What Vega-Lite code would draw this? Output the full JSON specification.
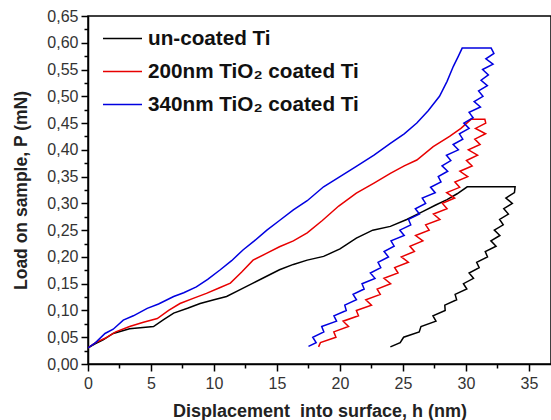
{
  "$schema": "https://vega.github.io/schema/vega-lite/v6.json",
  "width": 463,
  "height": 348,
  "autosize": {"type": "none"},
  "padding": {"left": 88, "top": 16, "right": 0, "bottom": 56},
  "background": "white",
  "config": {
    "view": {"stroke": "black", "strokeWidth": 1.5},
    "font": "Liberation Sans"
  },
  "data": {"values": [
    {"s":"un-coated Ti","i":0,"x":0,"y":0.03},
    {"s":"un-coated Ti","i":1,"x":0.6,"y":0.038},
    {"s":"un-coated Ti","i":2,"x":1.2,"y":0.045},
    {"s":"un-coated Ti","i":3,"x":2.0,"y":0.057},
    {"s":"un-coated Ti","i":4,"x":3.3,"y":0.066},
    {"s":"un-coated Ti","i":5,"x":5.2,"y":0.07},
    {"s":"un-coated Ti","i":6,"x":6.0,"y":0.083},
    {"s":"un-coated Ti","i":7,"x":6.8,"y":0.095},
    {"s":"un-coated Ti","i":8,"x":7.9,"y":0.104},
    {"s":"un-coated Ti","i":9,"x":8.9,"y":0.113},
    {"s":"un-coated Ti","i":10,"x":10.0,"y":0.12},
    {"s":"un-coated Ti","i":11,"x":11.0,"y":0.126},
    {"s":"un-coated Ti","i":12,"x":12.0,"y":0.138},
    {"s":"un-coated Ti","i":13,"x":13.1,"y":0.151},
    {"s":"un-coated Ti","i":14,"x":14.1,"y":0.163},
    {"s":"un-coated Ti","i":15,"x":15.2,"y":0.176},
    {"s":"un-coated Ti","i":16,"x":16.3,"y":0.186},
    {"s":"un-coated Ti","i":17,"x":17.4,"y":0.194},
    {"s":"un-coated Ti","i":18,"x":18.7,"y":0.201},
    {"s":"un-coated Ti","i":19,"x":20.0,"y":0.215},
    {"s":"un-coated Ti","i":20,"x":21.3,"y":0.235},
    {"s":"un-coated Ti","i":21,"x":22.6,"y":0.25},
    {"s":"un-coated Ti","i":22,"x":24.0,"y":0.257},
    {"s":"un-coated Ti","i":23,"x":25.3,"y":0.27},
    {"s":"un-coated Ti","i":24,"x":26.6,"y":0.285},
    {"s":"un-coated Ti","i":25,"x":27.6,"y":0.297},
    {"s":"un-coated Ti","i":26,"x":28.5,"y":0.307},
    {"s":"un-coated Ti","i":27,"x":29.3,"y":0.318},
    {"s":"un-coated Ti","i":28,"x":30.1,"y":0.331},
    {"s":"un-coated Ti","i":29,"x":33.9,"y":0.331},
    {"s":"un-coated Ti","i":30,"x":33.85,"y":0.32},
    {"s":"un-coated Ti","i":31,"x":33.17,"y":0.31},
    {"s":"un-coated Ti","i":32,"x":33.68,"y":0.30},
    {"s":"un-coated Ti","i":33,"x":33.0,"y":0.29},
    {"s":"un-coated Ti","i":34,"x":33.37,"y":0.28},
    {"s":"un-coated Ti","i":35,"x":32.67,"y":0.27},
    {"s":"un-coated Ti","i":36,"x":32.96,"y":0.26},
    {"s":"un-coated Ti","i":37,"x":32.25,"y":0.25},
    {"s":"un-coated Ti","i":38,"x":32.69,"y":0.24},
    {"s":"un-coated Ti","i":39,"x":31.98,"y":0.23},
    {"s":"un-coated Ti","i":40,"x":32.39,"y":0.22},
    {"s":"un-coated Ti","i":41,"x":31.53,"y":0.21},
    {"s":"un-coated Ti","i":42,"x":31.71,"y":0.20},
    {"s":"un-coated Ti","i":43,"x":30.85,"y":0.19},
    {"s":"un-coated Ti","i":44,"x":31.05,"y":0.18},
    {"s":"un-coated Ti","i":45,"x":30.25,"y":0.17},
    {"s":"un-coated Ti","i":46,"x":30.6,"y":0.16},
    {"s":"un-coated Ti","i":47,"x":29.8,"y":0.15},
    {"s":"un-coated Ti","i":48,"x":30.07,"y":0.14},
    {"s":"un-coated Ti","i":49,"x":29.14,"y":0.13},
    {"s":"un-coated Ti","i":50,"x":29.26,"y":0.12},
    {"s":"un-coated Ti","i":51,"x":28.32,"y":0.11},
    {"s":"un-coated Ti","i":52,"x":28.35,"y":0.10},
    {"s":"un-coated Ti","i":53,"x":27.38,"y":0.09},
    {"s":"un-coated Ti","i":54,"x":27.62,"y":0.08},
    {"s":"un-coated Ti","i":55,"x":26.43,"y":0.07},
    {"s":"un-coated Ti","i":56,"x":26.29,"y":0.06},
    {"s":"un-coated Ti","i":57,"x":25.05,"y":0.05},
    {"s":"un-coated Ti","i":58,"x":24.78,"y":0.04},
    {"s":"un-coated Ti","i":59,"x":24.0,"y":0.032},

    {"s":"200nm TiO₂ coated Ti","i":0,"x":0,"y":0.03},
    {"s":"200nm TiO₂ coated Ti","i":1,"x":0.6,"y":0.04},
    {"s":"200nm TiO₂ coated Ti","i":2,"x":1.35,"y":0.048},
    {"s":"200nm TiO₂ coated Ti","i":3,"x":2.2,"y":0.06},
    {"s":"200nm TiO₂ coated Ti","i":4,"x":3.3,"y":0.07},
    {"s":"200nm TiO₂ coated Ti","i":5,"x":4.4,"y":0.078},
    {"s":"200nm TiO₂ coated Ti","i":6,"x":5.5,"y":0.085},
    {"s":"200nm TiO₂ coated Ti","i":7,"x":6.4,"y":0.1},
    {"s":"200nm TiO₂ coated Ti","i":8,"x":7.3,"y":0.113},
    {"s":"200nm TiO₂ coated Ti","i":9,"x":8.4,"y":0.123},
    {"s":"200nm TiO₂ coated Ti","i":10,"x":9.4,"y":0.132},
    {"s":"200nm TiO₂ coated Ti","i":11,"x":10.4,"y":0.142},
    {"s":"200nm TiO₂ coated Ti","i":12,"x":11.3,"y":0.151},
    {"s":"200nm TiO₂ coated Ti","i":13,"x":12.2,"y":0.172},
    {"s":"200nm TiO₂ coated Ti","i":14,"x":13.1,"y":0.194},
    {"s":"200nm TiO₂ coated Ti","i":15,"x":14.2,"y":0.207},
    {"s":"200nm TiO₂ coated Ti","i":16,"x":15.2,"y":0.219},
    {"s":"200nm TiO₂ coated Ti","i":17,"x":16.3,"y":0.23},
    {"s":"200nm TiO₂ coated Ti","i":18,"x":17.4,"y":0.245},
    {"s":"200nm TiO₂ coated Ti","i":19,"x":18.6,"y":0.268},
    {"s":"200nm TiO₂ coated Ti","i":20,"x":19.9,"y":0.295},
    {"s":"200nm TiO₂ coated Ti","i":21,"x":21.3,"y":0.319},
    {"s":"200nm TiO₂ coated Ti","i":22,"x":22.7,"y":0.338},
    {"s":"200nm TiO₂ coated Ti","i":23,"x":24.0,"y":0.356},
    {"s":"200nm TiO₂ coated Ti","i":24,"x":25.1,"y":0.37},
    {"s":"200nm TiO₂ coated Ti","i":25,"x":26.1,"y":0.381},
    {"s":"200nm TiO₂ coated Ti","i":26,"x":27.4,"y":0.406},
    {"s":"200nm TiO₂ coated Ti","i":27,"x":28.7,"y":0.425},
    {"s":"200nm TiO₂ coated Ti","i":28,"x":29.6,"y":0.44},
    {"s":"200nm TiO₂ coated Ti","i":29,"x":30.4,"y":0.457},
    {"s":"200nm TiO₂ coated Ti","i":30,"x":31.5,"y":0.457},
    {"s":"200nm TiO₂ coated Ti","i":31,"x":31.57,"y":0.45},
    {"s":"200nm TiO₂ coated Ti","i":32,"x":30.76,"y":0.44},
    {"s":"200nm TiO₂ coated Ti","i":33,"x":31.56,"y":0.43},
    {"s":"200nm TiO₂ coated Ti","i":34,"x":30.7,"y":0.42},
    {"s":"200nm TiO₂ coated Ti","i":35,"x":31.12,"y":0.41},
    {"s":"200nm TiO₂ coated Ti","i":36,"x":30.19,"y":0.40},
    {"s":"200nm TiO₂ coated Ti","i":37,"x":30.92,"y":0.39},
    {"s":"200nm TiO₂ coated Ti","i":38,"x":30.04,"y":0.38},
    {"s":"200nm TiO₂ coated Ti","i":39,"x":30.49,"y":0.37},
    {"s":"200nm TiO₂ coated Ti","i":40,"x":29.52,"y":0.36},
    {"s":"200nm TiO₂ coated Ti","i":41,"x":30.14,"y":0.35},
    {"s":"200nm TiO₂ coated Ti","i":42,"x":29.12,"y":0.34},
    {"s":"200nm TiO₂ coated Ti","i":43,"x":29.5,"y":0.33},
    {"s":"200nm TiO₂ coated Ti","i":44,"x":28.47,"y":0.32},
    {"s":"200nm TiO₂ coated Ti","i":45,"x":29.1,"y":0.31},
    {"s":"200nm TiO₂ coated Ti","i":46,"x":28.13,"y":0.30},
    {"s":"200nm TiO₂ coated Ti","i":47,"x":28.5,"y":0.29},
    {"s":"200nm TiO₂ coated Ti","i":48,"x":27.42,"y":0.28},
    {"s":"200nm TiO₂ coated Ti","i":49,"x":27.93,"y":0.27},
    {"s":"200nm TiO₂ coated Ti","i":50,"x":26.8,"y":0.26},
    {"s":"200nm TiO₂ coated Ti","i":51,"x":27.08,"y":0.25},
    {"s":"200nm TiO₂ coated Ti","i":52,"x":26.0,"y":0.24},
    {"s":"200nm TiO₂ coated Ti","i":53,"x":26.58,"y":0.23},
    {"s":"200nm TiO₂ coated Ti","i":54,"x":25.55,"y":0.22},
    {"s":"200nm TiO₂ coated Ti","i":55,"x":25.91,"y":0.21},
    {"s":"200nm TiO₂ coated Ti","i":56,"x":24.87,"y":0.20},
    {"s":"200nm TiO₂ coated Ti","i":57,"x":25.43,"y":0.19},
    {"s":"200nm TiO₂ coated Ti","i":58,"x":24.34,"y":0.18},
    {"s":"200nm TiO₂ coated Ti","i":59,"x":24.61,"y":0.17},
    {"s":"200nm TiO₂ coated Ti","i":60,"x":23.49,"y":0.16},
    {"s":"200nm TiO₂ coated Ti","i":61,"x":24.02,"y":0.15},
    {"s":"200nm TiO₂ coated Ti","i":62,"x":22.95,"y":0.14},
    {"s":"200nm TiO₂ coated Ti","i":63,"x":23.2,"y":0.13},
    {"s":"200nm TiO₂ coated Ti","i":64,"x":22.05,"y":0.12},
    {"s":"200nm TiO₂ coated Ti","i":65,"x":22.5,"y":0.11},
    {"s":"200nm TiO₂ coated Ti","i":66,"x":21.3,"y":0.10},
    {"s":"200nm TiO₂ coated Ti","i":67,"x":21.47,"y":0.09},
    {"s":"200nm TiO₂ coated Ti","i":68,"x":20.25,"y":0.08},
    {"s":"200nm TiO₂ coated Ti","i":69,"x":20.68,"y":0.07},
    {"s":"200nm TiO₂ coated Ti","i":70,"x":19.51,"y":0.06},
    {"s":"200nm TiO₂ coated Ti","i":71,"x":19.68,"y":0.05},
    {"s":"200nm TiO₂ coated Ti","i":72,"x":18.45,"y":0.04},
    {"s":"200nm TiO₂ coated Ti","i":73,"x":18.3,"y":0.032},

    {"s":"340nm TiO₂ coated Ti","i":0,"x":0,"y":0.03},
    {"s":"340nm TiO₂ coated Ti","i":1,"x":0.6,"y":0.04},
    {"s":"340nm TiO₂ coated Ti","i":2,"x":1.35,"y":0.057},
    {"s":"340nm TiO₂ coated Ti","i":3,"x":2.0,"y":0.065},
    {"s":"340nm TiO₂ coated Ti","i":4,"x":2.8,"y":0.082},
    {"s":"340nm TiO₂ coated Ti","i":5,"x":3.6,"y":0.09},
    {"s":"340nm TiO₂ coated Ti","i":6,"x":4.7,"y":0.104},
    {"s":"340nm TiO₂ coated Ti","i":7,"x":5.6,"y":0.112},
    {"s":"340nm TiO₂ coated Ti","i":8,"x":6.8,"y":0.126},
    {"s":"340nm TiO₂ coated Ti","i":9,"x":7.6,"y":0.133},
    {"s":"340nm TiO₂ coated Ti","i":10,"x":8.6,"y":0.144},
    {"s":"340nm TiO₂ coated Ti","i":11,"x":9.5,"y":0.158},
    {"s":"340nm TiO₂ coated Ti","i":12,"x":10.5,"y":0.176},
    {"s":"340nm TiO₂ coated Ti","i":13,"x":11.4,"y":0.193},
    {"s":"340nm TiO₂ coated Ti","i":14,"x":12.3,"y":0.213},
    {"s":"340nm TiO₂ coated Ti","i":15,"x":13.2,"y":0.23},
    {"s":"340nm TiO₂ coated Ti","i":16,"x":14.2,"y":0.25},
    {"s":"340nm TiO₂ coated Ti","i":17,"x":15.2,"y":0.268},
    {"s":"340nm TiO₂ coated Ti","i":18,"x":16.3,"y":0.288},
    {"s":"340nm TiO₂ coated Ti","i":19,"x":17.4,"y":0.305},
    {"s":"340nm TiO₂ coated Ti","i":20,"x":18.7,"y":0.331},
    {"s":"340nm TiO₂ coated Ti","i":21,"x":20.0,"y":0.35},
    {"s":"340nm TiO₂ coated Ti","i":22,"x":21.3,"y":0.369},
    {"s":"340nm TiO₂ coated Ti","i":23,"x":22.7,"y":0.39},
    {"s":"340nm TiO₂ coated Ti","i":24,"x":24.0,"y":0.412},
    {"s":"340nm TiO₂ coated Ti","i":25,"x":25.1,"y":0.43},
    {"s":"340nm TiO₂ coated Ti","i":26,"x":26.1,"y":0.45},
    {"s":"340nm TiO₂ coated Ti","i":27,"x":27.0,"y":0.473},
    {"s":"340nm TiO₂ coated Ti","i":28,"x":27.9,"y":0.50},
    {"s":"340nm TiO₂ coated Ti","i":29,"x":28.5,"y":0.528},
    {"s":"340nm TiO₂ coated Ti","i":30,"x":29.0,"y":0.556},
    {"s":"340nm TiO₂ coated Ti","i":31,"x":29.4,"y":0.575},
    {"s":"340nm TiO₂ coated Ti","i":32,"x":29.7,"y":0.59},
    {"s":"340nm TiO₂ coated Ti","i":33,"x":32.0,"y":0.59},
    {"s":"340nm TiO₂ coated Ti","i":34,"x":32.22,"y":0.58},
    {"s":"340nm TiO₂ coated Ti","i":35,"x":31.58,"y":0.57},
    {"s":"340nm TiO₂ coated Ti","i":36,"x":32.15,"y":0.56},
    {"s":"340nm TiO₂ coated Ti","i":37,"x":31.32,"y":0.55},
    {"s":"340nm TiO₂ coated Ti","i":38,"x":31.78,"y":0.54},
    {"s":"340nm TiO₂ coated Ti","i":39,"x":31.2,"y":0.53},
    {"s":"340nm TiO₂ coated Ti","i":40,"x":31.7,"y":0.52},
    {"s":"340nm TiO₂ coated Ti","i":41,"x":31.0,"y":0.51},
    {"s":"340nm TiO₂ coated Ti","i":42,"x":31.35,"y":0.50},
    {"s":"340nm TiO₂ coated Ti","i":43,"x":30.65,"y":0.49},
    {"s":"340nm TiO₂ coated Ti","i":44,"x":31.15,"y":0.48},
    {"s":"340nm TiO₂ coated Ti","i":45,"x":30.25,"y":0.47},
    {"s":"340nm TiO₂ coated Ti","i":46,"x":30.57,"y":0.46},
    {"s":"340nm TiO₂ coated Ti","i":47,"x":29.83,"y":0.45},
    {"s":"340nm TiO₂ coated Ti","i":48,"x":30.25,"y":0.44},
    {"s":"340nm TiO₂ coated Ti","i":49,"x":29.48,"y":0.43},
    {"s":"340nm TiO₂ coated Ti","i":50,"x":29.75,"y":0.42},
    {"s":"340nm TiO₂ coated Ti","i":51,"x":28.98,"y":0.41},
    {"s":"340nm TiO₂ coated Ti","i":52,"x":29.4,"y":0.40},
    {"s":"340nm TiO₂ coated Ti","i":53,"x":28.45,"y":0.39},
    {"s":"340nm TiO₂ coated Ti","i":54,"x":28.8,"y":0.38},
    {"s":"340nm TiO₂ coated Ti","i":55,"x":28.1,"y":0.37},
    {"s":"340nm TiO₂ coated Ti","i":56,"x":28.55,"y":0.36},
    {"s":"340nm TiO₂ coated Ti","i":57,"x":27.8,"y":0.35},
    {"s":"340nm TiO₂ coated Ti","i":58,"x":28.02,"y":0.34},
    {"s":"340nm TiO₂ coated Ti","i":59,"x":27.19,"y":0.33},
    {"s":"340nm TiO₂ coated Ti","i":60,"x":27.56,"y":0.32},
    {"s":"340nm TiO₂ coated Ti","i":61,"x":26.53,"y":0.31},
    {"s":"340nm TiO₂ coated Ti","i":62,"x":26.8,"y":0.30},
    {"s":"340nm TiO₂ coated Ti","i":63,"x":25.98,"y":0.29},
    {"s":"340nm TiO₂ coated Ti","i":64,"x":26.31,"y":0.28},
    {"s":"340nm TiO₂ coated Ti","i":65,"x":25.44,"y":0.27},
    {"s":"340nm TiO₂ coated Ti","i":66,"x":25.62,"y":0.26},
    {"s":"340nm TiO₂ coated Ti","i":67,"x":24.75,"y":0.25},
    {"s":"340nm TiO₂ coated Ti","i":68,"x":25.1,"y":0.24},
    {"s":"340nm TiO₂ coated Ti","i":69,"x":24.05,"y":0.23},
    {"s":"340nm TiO₂ coated Ti","i":70,"x":24.3,"y":0.22},
    {"s":"340nm TiO₂ coated Ti","i":71,"x":23.5,"y":0.21},
    {"s":"340nm TiO₂ coated Ti","i":72,"x":23.85,"y":0.20},
    {"s":"340nm TiO₂ coated Ti","i":73,"x":23.02,"y":0.19},
    {"s":"340nm TiO₂ coated Ti","i":74,"x":23.24,"y":0.18},
    {"s":"340nm TiO₂ coated Ti","i":75,"x":22.41,"y":0.17},
    {"s":"340nm TiO₂ coated Ti","i":76,"x":22.78,"y":0.16},
    {"s":"340nm TiO₂ coated Ti","i":77,"x":21.75,"y":0.15},
    {"s":"340nm TiO₂ coated Ti","i":78,"x":21.92,"y":0.14},
    {"s":"340nm TiO₂ coated Ti","i":79,"x":21.04,"y":0.13},
    {"s":"340nm TiO₂ coated Ti","i":80,"x":21.31,"y":0.12},
    {"s":"340nm TiO₂ coated Ti","i":81,"x":20.38,"y":0.11},
    {"s":"340nm TiO₂ coated Ti","i":82,"x":20.5,"y":0.10},
    {"s":"340nm TiO₂ coated Ti","i":83,"x":19.52,"y":0.09},
    {"s":"340nm TiO₂ coated Ti","i":84,"x":19.73,"y":0.08},
    {"s":"340nm TiO₂ coated Ti","i":85,"x":18.55,"y":0.07},
    {"s":"340nm TiO₂ coated Ti","i":86,"x":18.72,"y":0.06},
    {"s":"340nm TiO₂ coated Ti","i":87,"x":17.84,"y":0.05},
    {"s":"340nm TiO₂ coated Ti","i":88,"x":18.11,"y":0.04},
    {"s":"340nm TiO₂ coated Ti","i":89,"x":17.5,"y":0.033}
  ]},
  "mark": {"type": "line", "strokeWidth": 1.5, "clip": true},
  "encoding": {
    "x": {
      "field": "x", "type": "quantitative",
      "scale": {"domain": [0, 36.75], "nice": false, "zero": false},
      "axis": {
        "title": "Displacement\u00a0 into surface, h (nm)",
        "values": [0,2.5,5,7.5,10,12.5,15,17.5,20,22.5,25,27.5,30,32.5,35],
        "labelExpr": "datum.value % 5 == 0 ? format(datum.value, 'd') : ''",
        "grid": false,
        "domainColor": "black", "domainWidth": 1.5,
        "tickColor": "black", "tickWidth": 1.5,
        "tickSize": {"condition": {"test": "datum.value % 5 == 0", "value": 7}, "value": 4},
        "labelFont": "Liberation Sans", "labelFontSize": 16, "labelColor": "#333333",
        "labelPadding": 4, "labelFlush": false, "labelOverlap": false,
        "titleFont": "Liberation Sans", "titleFontSize": 18, "titleFontWeight": "bold",
        "titleColor": "#222222", "titlePadding": 11
      }
    },
    "y": {
      "field": "y", "type": "quantitative",
      "scale": {"domain": [0, 0.65], "nice": false, "zero": false},
      "axis": {
        "title": "Load on sample, P (mN)",
        "values": [0,0.025,0.05,0.075,0.1,0.125,0.15,0.175,0.2,0.225,0.25,0.275,0.3,0.325,0.35,0.375,0.4,0.425,0.45,0.475,0.5,0.525,0.55,0.575,0.6,0.625,0.65],
        "labelExpr": "abs(datum.value*20 - round(datum.value*20)) < 0.01 ? replace(format(datum.value, '.2f'), '.', ',') : ''",
        "grid": false,
        "domainColor": "black", "domainWidth": 1.5,
        "tickColor": "black", "tickWidth": 1.5,
        "tickSize": {"condition": {"test": "abs(datum.value*20 - round(datum.value*20)) < 0.01", "value": 7}, "value": 4},
        "labelFont": "Liberation Sans", "labelFontSize": 16, "labelColor": "#333333",
        "labelPadding": 3, "labelFlush": false, "labelOverlap": false,
        "titleFont": "Liberation Sans", "titleFontSize": 17.5, "titleFontWeight": "bold",
        "titleColor": "#222222", "titlePadding": 16
      }
    },
    "color": {
      "field": "s", "type": "nominal",
      "scale": {
        "domain": ["un-coated Ti", "200nm TiO₂ coated Ti", "340nm TiO₂ coated Ti"],
        "range": ["#000000", "#e80000", "#0000e0"]
      },
      "legend": {
        "title": null,
        "orient": "none",
        "legendX": 14,
        "legendY": 2,
        "symbolType": "stroke",
        "symbolStrokeWidth": 1.5,
        "symbolSize": 1521,
        "rowPadding": 2,
        "labelFont": "Liberation Sans",
        "labelFontSize": 20.7,
        "labelFontWeight": "bold",
        "labelColor": "#111111",
        "labelLimit": 400,
        "labelOffset": 5,
        "padding": 0
      }
    },
    "order": {"field": "i", "type": "quantitative"}
  }
}
